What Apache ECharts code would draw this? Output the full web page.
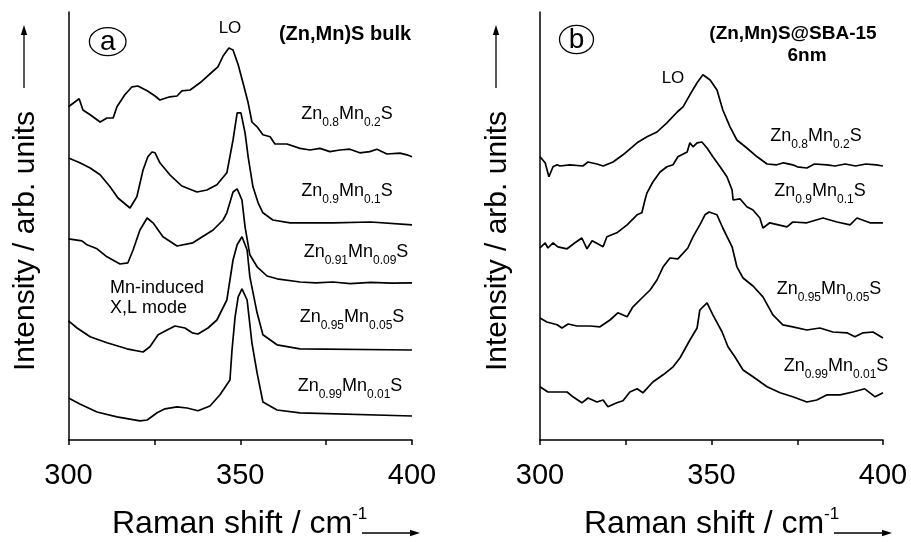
<!DOCTYPE html>
<html>
<head>
<meta charset="utf-8">
<script src="https://cdn.jsdelivr.net/npm/echarts@6/dist/echarts.min.js"></script>
<style>
  html, body { margin: 0; padding: 0; background: #fff; }
  #chart { width: 911px; height: 542px; }
</style>
</head>
<body>
<div id="chart"></div>
<script>
// Raman shift axis (cm^-1)
const shiftMin = 300;
const shiftMax = 400;
const shiftStep = 25;
const shiftTickLabels = [300, 350, 400];

// (a) bulk (Zn,Mn)S spectra, offset for stacking: [shift, intensity]
const bulk_080 = [[300,83.3],[303.1,85.3],[304.2,82.5],[306.3,81.3],[309.2,79.5],[311.2,80.5],[313.0,80.5],[314.1,83.3],[316.4,86.3],[318.5,88.3],[320.2,88.5],[322.9,87.3],[325.2,86],[326.6,85],[329.5,85.8],[331.6,86],[333.0,87.3],[335.4,87.5],[338.3,89.3],[341.8,92],[343.5,93.3],[345.0,96],[346.7,98],[347.9,97.5],[349.4,93.8],[350.8,89.3],[352.3,84.3],[353.4,79.5],[354.9,78.3],[356.6,76.3],[358.7,75.8],[360.1,74],[363.6,74],[367.4,72.9],[370.3,72.5],[373.2,72.9],[376.1,72.1],[379.0,72.5],[381.9,72.7],[384.8,71.8],[387.7,72.1],[389.8,72.7],[392.7,71.5],[396.5,71.7],[398.5,71.3],[400,70.8]];
const bulk_090 = [[300,70.5],[303.3,69.3],[306.3,68],[309.2,66.3],[312.1,63.3],[314.4,60.5],[317.9,58],[319.9,60.8],[321.7,67.5],[323.1,70.8],[324.3,72],[325.2,71.8],[326.6,69.3],[329.5,66.3],[333.0,63.5],[337.4,62],[340.3,62.5],[343.2,63.8],[346.1,66.8],[347.9,75],[349.1,81.8],[350.2,81.8],[351.4,76.8],[352.3,70.8],[353.7,63.3],[355.2,59.3],[356.6,56.8],[359.5,55],[364.5,54.3],[377.0,54.3],[388,54.5],[400,53.8]];
const bulk_091 = [[300,50.3],[303.9,49.8],[305.4,48.8],[308.3,47.8],[311.2,45.8],[315.0,44],[317.3,44.3],[318.8,47.5],[320.8,52.5],[322.9,55.5],[324.6,54.3],[327.5,50.8],[331.6,48.5],[336.2,49.3],[342.1,52.5],[345.0,55],[346.1,56.8],[347.9,62],[349.1,62.8],[350.5,60],[351.4,53.3],[352.8,46.3],[354.9,43.3],[357.8,41],[360.7,40.3],[367.4,39.5],[372,39.3],[377.0,39.5],[382,39.1],[388,39.4],[394,39.2],[400,39.3]];
const bulk_095 = [[300,29.8],[302.5,28],[306.3,25.8],[311.2,24.3],[317.0,22.8],[321.7,22],[323.7,23.3],[326.1,26.3],[328.7,27.5],[331.0,28.5],[333.9,28],[336.0,26.8],[337.7,26.5],[340.6,28],[343.2,30],[346.1,35],[347.9,45],[349.1,48.8],[350.5,50.8],[352.0,47.5],[352.8,40.8],[354.9,31.8],[356.6,26.3],[360.7,23.8],[367.4,22.8],[400,22.5]];
const bulk_099 = [[300,10.5],[303.3,9],[308.3,7],[314.1,5.8],[320.8,4.8],[322.9,5],[325.8,6.8],[328.1,7.8],[331.6,8.3],[334.5,8],[337.7,7.3],[341.2,8.5],[344.1,11.3],[347.0,15],[347.6,22.5],[348.5,30.8],[349.4,35.8],[350.5,37.8],[352.0,35],[353.4,24.3],[354.9,16.8],[356.6,9.5],[360.7,7.5],[367.4,6.8],[400,6]];

// (b) (Zn,Mn)S in SBA-15 (6 nm pores), offset for stacking: [shift, intensity]
const sba_080 = [[300,70.8],[301.5,69.3],[302.6,65.8],[303.8,68.3],[305.0,68.8],[305.8,68.5],[308.7,68.8],[312.5,68.5],[314.0,69.5],[316.6,69],[318.4,68.5],[321.3,69.5],[324.2,71.3],[328.3,74.3],[331.2,75.8],[334.1,77],[337.0,79.3],[340.0,82],[341.7,83.3],[343.7,86.3],[345.8,89.3],[347.5,91.3],[349.6,90],[351.6,87.5],[353.3,82.5],[355.4,78.3],[357.4,75],[360.3,73],[363.3,70.8],[366.2,69],[369,68.8],[371,69.3],[373.7,68.8],[375,68.3],[377.8,68],[380,69],[383.7,68.8],[386,68.5],[389,69],[392,68.5],[395,69],[398,68.8],[400,68.5]];
const sba_090 = [[300,48],[301.5,49.3],[302.3,48],[303.8,49.3],[305.2,48.3],[307.9,47.8],[310.2,49.3],[312.2,50.5],[313.7,47.8],[315.2,49.8],[318.4,48.3],[319.5,50.8],[322.4,51.8],[325.4,53.8],[328.3,56.3],[329.7,56.8],[330.6,60],[331.2,61.8],[332.9,64.5],[335.0,67],[337.0,68.3],[338.8,68.8],[340.2,70.8],[342.9,72],[343.7,74.3],[344.6,73.3],[345.8,74.3],[347.2,74.5],[348.7,73],[350.4,70.8],[352.5,68.3],[354.5,65.8],[356.0,62.5],[356.3,60],[358.3,60.3],[360.3,58.3],[362.1,57.5],[364.1,55.5],[365.0,53],[367.0,54.3],[372.0,53.3],[373.7,54.5],[377.8,54.3],[382.5,55.5],[386.6,54.5],[390.4,53.8],[392.4,55.5],[396.2,54.3],[400,54.3]];
const sba_095 = [[300,30.5],[302.0,29.5],[305.0,28.8],[306.4,28],[308.2,29],[310.8,28.5],[314.6,28.5],[317.5,28.3],[320.4,30],[322.7,31.8],[325.4,30.8],[327.1,33.3],[329.7,35.5],[332.1,37.5],[334.1,40],[335.9,43.3],[337.9,45.5],[340.2,45.3],[343.1,48],[344.6,50.8],[346.6,53.8],[348.1,56.3],[349.3,57],[351.6,56.3],[353.3,53],[356.0,48.3],[357.4,43.3],[359.2,40.5],[362.1,38.5],[365.0,35.8],[367.9,31.3],[370.8,28.8],[373.7,28.3],[377.8,27.5],[381.6,28],[385.4,27],[389.5,26.8],[391.8,25.8],[394.2,26.8],[397.1,27],[400,25.5]];
const sba_099 = [[300,13.3],[302.3,12],[305.0,12],[307.9,12],[309.6,10.8],[312.2,9.3],[314.0,10.5],[316.6,9.5],[318.4,10],[319.8,8.3],[322.4,9.3],[324.2,9.8],[326.2,12],[328.3,12.8],[330.0,11.8],[332.9,14.5],[335.9,16.3],[338.8,18.3],[340.8,20.5],[343.7,25],[345.8,28],[346.6,32.5],[348.7,34.3],[350.4,31.3],[353.1,27],[354.8,23.3],[356.8,20.8],[359.2,17.5],[362.1,15.8],[366.2,13.3],[370.0,11.8],[373.7,10.8],[377.8,9.5],[380.7,10],[383.7,11.3],[387.5,11.3],[391.2,12],[394.7,12.8],[397.7,10.8],[400,11.8]];

// Compositions (Zn fraction, Mn fraction)
const bulkCompositions = [['0.8','0.2'],['0.9','0.1'],['0.91','0.09'],['0.95','0.05'],['0.99','0.01']];
const sbaCompositions = [['0.8','0.2'],['0.9','0.1'],['0.95','0.05'],['0.99','0.01']];

const FONT = "'Liberation Sans', Arial, Helvetica, sans-serif";
const INK = '#000';

const chart = echarts.init(document.getElementById('chart'), null, { renderer: 'canvas' });

function formula(zn, mn) {
  return '{m|Zn}{s|' + zn + '}{m|Mn}{s|' + mn + '}{m|S}';
}
const formulaRich = {
  m: { fontSize: 18, fontFamily: FONT, fill: INK, color: INK, lineHeight: 24, verticalAlign: 'top' },
  s: { fontSize: 12, fontFamily: FONT, fill: INK, color: INK, lineHeight: 12, verticalAlign: 'bottom' }
};

function label(text, x, y, font, align) {
  return {
    type: 'text', x: x, y: y, silent: true,
    style: { text: text, font: font, fill: INK, textAlign: align || 'center', textVerticalAlign: 'middle' }
  };
}
function formulaLabel(pair, x, y) {
  return {
    type: 'text', x: x, y: y, silent: true,
    style: { text: formula(pair[0], pair[1]), rich: formulaRich, fill: INK, textAlign: 'center', textVerticalAlign: 'middle', font: '18px ' + FONT }
  };
}
function arrowRight(x1, x2, y) {
  return [
    { type: 'line', silent: true, shape: { x1: x1, y1: y, x2: x2 - 6, y2: y }, style: { stroke: INK, lineWidth: 1.3 } },
    { type: 'polygon', silent: true, shape: { points: [[x2, y], [x2 - 10, y - 3.2], [x2 - 10, y + 3.2]] }, style: { fill: INK } }
  ];
}
function arrowUp(x, y1, y2) {
  return [
    { type: 'line', silent: true, shape: { x1: x, y1: y1, x2: x, y2: y2 + 6 }, style: { stroke: INK, lineWidth: 1.3 } },
    { type: 'polygon', silent: true, shape: { points: [[x, y2], [x - 3.2, y2 + 10], [x + 3.2, y2 + 10]] }, style: { fill: INK } }
  ];
}
function yTitle(x) {
  return {
    type: 'text', x: x, y: 241, rotation: Math.PI / 2, silent: true,
    style: { text: 'Intensity / arb. units', font: '30px ' + FONT, fill: INK, textAlign: 'center', textVerticalAlign: 'middle' }
  };
}
function xTitle(x) {
  return {
    type: 'text', x: x, y: 523, silent: true,
    style: {
      text: '{t|Raman shift / cm}{p|-1}', fill: INK, textAlign: 'left', textVerticalAlign: 'middle',
      rich: {
        t: { fontSize: 32, fontFamily: FONT, fill: INK, lineHeight: 34, verticalAlign: 'bottom' },
        p: { fontSize: 17, fontFamily: FONT, fill: INK, lineHeight: 17, verticalAlign: 'top' }
      }
    }
  };
}
function panelBadge(cx, cy, rx, ry, letter) {
  return [
    { type: 'ellipse', silent: true, shape: { cx: cx, cy: cy, rx: rx, ry: ry }, style: { fill: 'none', stroke: INK, lineWidth: 1.3 } },
    label(letter, cx, cy + 0.5, '28px ' + FONT)
  ];
}

function xAxis(gridIndex) {
  return {
    type: 'value', gridIndex: gridIndex, min: shiftMin, max: shiftMax, interval: shiftStep,
    axisLine: { show: true, onZero: false, lineStyle: { color: INK, width: 1.5 } },
    axisTick: { show: true, length: 5, lineStyle: { color: INK, width: 1.5 } },
    axisLabel: {
      margin: 21, color: INK, fontSize: 29, fontFamily: FONT,
      formatter: v => shiftTickLabels.indexOf(v) >= 0 ? String(v) : ''
    },
    splitLine: { show: false }
  };
}
function yAxis(gridIndex) {
  return {
    type: 'value', gridIndex: gridIndex, min: 0, max: 107,
    axisLine: { show: true, onZero: false, lineStyle: { color: INK, width: 1.5 } },
    axisTick: { show: false }, axisLabel: { show: false }, splitLine: { show: false }
  };
}
function spectrum(data, gridIndex) {
  return {
    type: 'line', data: data, xAxisIndex: gridIndex, yAxisIndex: gridIndex,
    showSymbol: false, symbol: 'none', smooth: false, silent: true,
    lineStyle: { color: INK, width: 1.7 }
  };
}

const graphics = [].concat(
  panelBadge(107.7, 41.7, 18.3, 14, 'a'),
  panelBadge(576.5, 39.5, 17, 14.2, 'b'),
  [
    label('(Zn,Mn)S bulk', 345, 34, 'bold 20px ' + FONT),
    label('(Zn,Mn)S@SBA-15', 793, 34, 'bold 19px ' + FONT),
    label('6nm', 807, 56, 'bold 19px ' + FONT),
    label('LO', 230, 28, '17px ' + FONT),
    label('LO', 673, 78, '17px ' + FONT),
    label('Mn-induced', 110, 288, '18px ' + FONT, 'left'),
    label('X,L mode', 110, 308, '18px ' + FONT, 'left'),
    formulaLabel(bulkCompositions[0], 347, 117),
    formulaLabel(bulkCompositions[1], 347, 194),
    formulaLabel(bulkCompositions[2], 356, 255),
    formulaLabel(bulkCompositions[3], 352, 320),
    formulaLabel(bulkCompositions[4], 350, 389),
    formulaLabel(sbaCompositions[0], 816, 139),
    formulaLabel(sbaCompositions[1], 820, 194),
    formulaLabel(sbaCompositions[2], 829, 292),
    formulaLabel(sbaCompositions[3], 836, 369),
    yTitle(26), yTitle(498),
    xTitle(112), xTitle(584)
  ],
  arrowUp(24, 88, 25), arrowUp(496, 88, 25),
  arrowRight(362, 420, 533), arrowRight(834, 892, 533)
);

chart.setOption({
  animation: false,
  backgroundColor: '#fff',
  textStyle: { fontFamily: FONT },
  grid: [
    { left: 68.5, top: 12, width: 343.5, height: 428, outerBoundsMode: 'none', containLabel: false },
    { left: 540, top: 12, width: 343, height: 428, outerBoundsMode: 'none', containLabel: false }
  ],
  xAxis: [xAxis(0), xAxis(1)],
  yAxis: [yAxis(0), yAxis(1)],
  series: [
    spectrum(bulk_080, 0), spectrum(bulk_090, 0), spectrum(bulk_091, 0), spectrum(bulk_095, 0), spectrum(bulk_099, 0),
    spectrum(sba_080, 1), spectrum(sba_090, 1), spectrum(sba_095, 1), spectrum(sba_099, 1)
  ],
  graphic: { elements: graphics }
});
</script>
</body>
</html>
